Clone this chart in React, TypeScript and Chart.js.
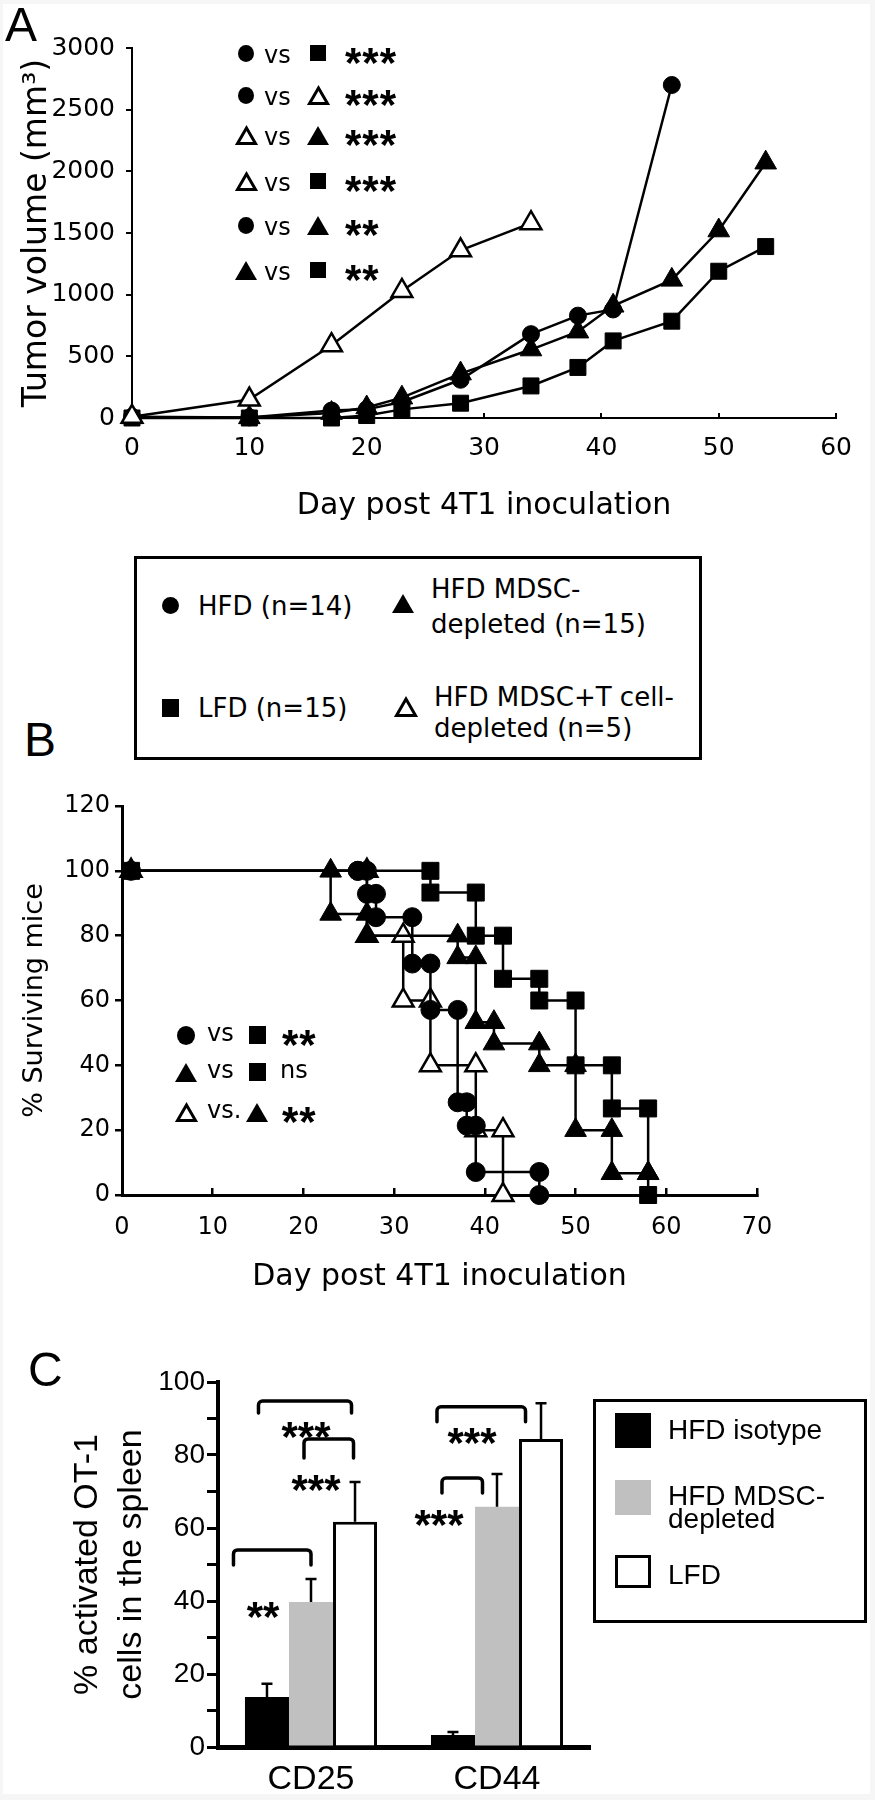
import React, { useEffect, useRef } from 'react';
import { Chart, registerables } from 'chart.js';

Chart.register(...registerables);
Chart.defaults.color = '#000';

const SANS = 'DejaVu Sans';
const ARIAL = 'Liberation Sans';

// ---------- Panel A: tumour volume (mm3) by day ----------
const hfdDays = [0, 10, 17, 20, 23, 28, 34, 38, 41, 46];
const hfdVolume = [10, 5, 60, 70, 130, 310, 680, 830, 880, 2700];
const mdscDays = [0, 10, 17, 20, 23, 28, 34, 38, 41, 46, 50, 54];
const mdscVolume = [5, 5, 40, 85, 165, 360, 555, 700, 910, 1120, 1520, 2070];
const lfdDays = [0, 10, 17, 20, 23, 28, 34, 38, 41, 46, 50, 54];
const lfdVolume = [0, 0, 0, 20, 70, 120, 260, 410, 625, 785, 1190, 1390];
const mdscTDays = [0, 10, 17, 23, 28, 34];
const mdscTVolume = [10, 150, 590, 1030, 1360, 1580];

// ---------- Panel B: % surviving mice (Kaplan-Meier steps) ----------
const hfdSurvDays = [1, 26, 27, 28, 32, 34, 37, 38, 39, 46];
const hfdSurvival = [100, 100, 92.9, 85.7, 71.4, 57.1, 28.6, 21.4, 7.1, 0];
const lfdSurvDays = [1, 34, 39, 42, 46, 50, 54, 58];
const lfdSurvival = [100, 93.3, 80, 66.7, 60, 40, 26.7, 0];
const mdscSurvDays = [1, 23, 27, 37, 39, 41, 46, 50, 54, 58];
const mdscSurvival = [100, 86.7, 80, 73.3, 53.3, 46.7, 40, 20, 6.7, 6.7];
const mdscTSurvDays = [1, 27, 31, 34, 39, 42];
const mdscTSurvival = [100, 80, 60, 40, 20, 0];

// ---------- Panel C: % activated OT-1 cells ----------
const markers = ['CD25', 'CD44'];
const isotypeMean = [13.7, 3.3];
const isotypeErr = [3.6, 0.8];
const mdscMean = [39.7, 65.8];
const mdscErr = [6.3, 9.0];
const lfdMean = [61.7, 84.4];
const lfdErr = [10.9, 9.8];
const barErrors = [isotypeErr, mdscErr, lfdErr];

// ---------- annotations ----------
const sigTumor = [
  ['circle', 'square', '***'],
  ['circle', 'otri', '***'],
  ['otri', 'tri', '***'],
  ['otri', 'square', '***'],
  ['circle', 'tri', '**'],
  ['tri', 'square', '**'],
];
const sigTumorRows = [53, 95, 135, 181, 225, 270];

const sigSurvival = [
  ['circle', 'square', 'vs', '**'],
  ['tri', 'square', 'vs', 'ns'],
  ['otri', 'tri', 'vs.', '**'],
];
const sigSurvivalRows = [1035, 1072, 1112];

const bracketsC = [
  { cat: 0, from: 0, to: 2, level: 94.8, text: '***', textLevel: 87.7 },
  { cat: 0, from: 1, to: 2, level: 84.4, text: '***', textLevel: 73.2 },
  { cat: 0, from: 0, to: 1, level: 54.0, text: '**', textLevel: 38.4 },
  { cat: 1, from: 0, to: 2, level: 93.2, text: '***', textLevel: 86.0 },
  { cat: 1, from: 0, to: 1, level: 73.7, text: '***', textLevel: 63.6 },
];
// [dxFrom, dxTo, legLength, textDx] in px
const bracketLayout = [
  [-8.5, -3.5, 12, -5],
  [-7, -1.5, 19, -17],
  [-33.5, 0, 15, -26],
  [-16, -15.5, 15, -25],
  [-11, -14.5, 15, -36],
];

const pts = (xs: number[], ys: number[]) => xs.map((x, i) => ({ x, y: ys[i] }));
const stepPts = (days: number[], surv: number[]) => {
  const out = [{ x: days[0], y: surv[0] }];
  for (let i = 1; i < days.length; i++) {
    out.push({ x: days[i], y: surv[i - 1] });
    out.push({ x: days[i], y: surv[i] });
  }
  return out;
};

const lineSeries = (label: string, data: any[], style: string, r: number, fill: string) => ({
  label,
  data,
  borderColor: '#000',
  borderWidth: 2.5,
  tension: 0,
  fill: false,
  clip: false,
  pointStyle: style,
  pointRadius: r,
  pointBackgroundColor: fill,
  pointBorderColor: '#000',
  pointBorderWidth: fill === '#fff' ? 2.5 : 1,
});

const noPlugins = { legend: { display: false }, tooltip: { enabled: false } };

const configA = (): any => ({
  type: 'line',
  data: {
    datasets: [
      lineSeries('HFD MDSC+T cell-depleted', pts(mdscTDays, mdscTVolume), 'triangle', 12, '#fff'),
      lineSeries('LFD', pts(lfdDays, lfdVolume), 'rect', 11.3, '#000'),
      lineSeries('HFD MDSC-depleted', pts(mdscDays, mdscVolume), 'triangle', 12.5, '#000'),
      lineSeries('HFD', pts(hfdDays, hfdVolume), 'circle', 8.5, '#000'),
    ],
  },
  options: {
    responsive: false,
    animation: false,
    events: [],
    layout: { padding: { top: 48, right: 30, left: 0, bottom: 0 } },
    plugins: noPlugins,
    scales: {
      x: {
        type: 'linear', min: 0, max: 60,
        ticks: { stepSize: 10, color: '#000', padding: 23, maxRotation: 0, font: { family: SANS, size: 25, lineHeight: 1 }, callback: (v: any) => String(v) },
        grid: { drawOnChartArea: false, drawTicks: true, tickLength: -5, color: '#000', lineWidth: 2 },
        border: { color: '#000', width: 2 },
        title: { display: true, text: 'Day post 4T1 inoculation', color: '#000', font: { family: SANS, size: 30, lineHeight: 1 }, padding: { top: 0, bottom: 19 } },
        afterFit: (s: any) => { s.height = 122; },
      },
      y: {
        type: 'linear', min: 0, max: 3000,
        ticks: { stepSize: 500, color: '#000', padding: 11, font: { family: SANS, size: 25, lineHeight: 1 }, callback: (v: any) => String(v) },
        grid: { drawOnChartArea: false, drawTicks: true, tickLength: 6, color: '#000', lineWidth: 2 },
        border: { color: '#000', width: 2 },
        title: { display: true, text: 'Tumor volume (mm³)', color: '#000', font: { family: SANS, size: 33, lineHeight: 1 }, padding: { top: 20.5, bottom: 0 } },
        afterFit: (s: any) => { s.width = 132; },
      },
    },
  },
});

const configB = (): any => ({
  type: 'line',
  data: {
    datasets: [
      lineSeries('LFD', stepPts(lfdSurvDays, lfdSurvival), 'rect', 12, '#000'),
      lineSeries('HFD', stepPts(hfdSurvDays, hfdSurvival), 'circle', 9.5, '#000'),
      lineSeries('HFD MDSC-depleted', stepPts(mdscSurvDays, mdscSurvival), 'triangle', 12.5, '#000'),
      lineSeries('HFD MDSC+T cell-depleted', stepPts(mdscTSurvDays, mdscTSurvival), 'triangle', 12, '#fff'),
    ],
  },
  options: {
    responsive: false,
    animation: false,
    events: [],
    layout: { padding: { top: 26, right: 118, left: 0, bottom: 0 } },
    plugins: noPlugins,
    scales: {
      x: {
        type: 'linear', min: 0, max: 70,
        ticks: { stepSize: 10, color: '#000', padding: 28, maxRotation: 0, font: { family: SANS, size: 24, lineHeight: 1 }, callback: (v: any) => String(v) },
        grid: { drawOnChartArea: false, drawTicks: true, tickLength: -7, color: '#000', lineWidth: 2.5 },
        border: { color: '#000', width: 3 },
        title: { display: true, text: 'Day post 4T1 inoculation', color: '#000', font: { family: SANS, size: 30, lineHeight: 1 }, padding: { top: 0, bottom: 8 } },
        afterFit: (s: any) => { s.height = 105; },
      },
      y: {
        type: 'linear', min: 0, max: 120,
        ticks: { stepSize: 20, color: '#000', padding: 5, font: { family: SANS, size: 24, lineHeight: 1 }, callback: (v: any) => String(v) },
        grid: { drawOnChartArea: false, drawTicks: true, tickLength: 7, color: '#000', lineWidth: 2.5 },
        border: { color: '#000', width: 3 },
        title: { display: true, text: '% Surviving mice', color: '#000', font: { family: SANS, size: 27, lineHeight: 1 }, padding: { top: 21.5, bottom: 0 } },
        afterFit: (s: any) => { s.width = 122; },
      },
    },
  },
});

const errorBarPlugin = {
  id: 'errorBars',
  afterDatasetsDraw(chart: any) {
    const ctx = chart.ctx;
    const y = chart.scales.y;
    chart.data.datasets.forEach((ds: any, i: number) => {
      const meta = chart.getDatasetMeta(i);
      meta.data.forEach((bar: any, j: number) => {
        const top = y.getPixelForValue(ds.data[j] + barErrors[i][j]);
        ctx.save();
        ctx.strokeStyle = '#000';
        ctx.lineWidth = 2.5;
        ctx.beginPath();
        ctx.moveTo(bar.x, bar.y);
        ctx.lineTo(bar.x, top);
        ctx.moveTo(bar.x - 5.5, top);
        ctx.lineTo(bar.x + 5.5, top);
        ctx.stroke();
        ctx.restore();
      });
    });
  },
};

const bracketPlugin = {
  id: 'brackets',
  afterDraw(chart: any) {
    const ctx = chart.ctx;
    const y = chart.scales.y;
    bracketsC.forEach((b, k) => {
      const [dx1, dx2, leg, tdx] = bracketLayout[k];
      const xa = chart.getDatasetMeta(b.from).data[b.cat].x;
      const xb = chart.getDatasetMeta(b.to).data[b.cat].x;
      const x1 = xa + dx1;
      const x2 = xb + dx2;
      const yt = y.getPixelForValue(b.level);
      ctx.save();
      ctx.strokeStyle = '#000';
      ctx.lineWidth = 3.5;
      ctx.lineCap = 'round';
      ctx.lineJoin = 'round';
      ctx.beginPath();
      ctx.moveTo(x1, yt + leg);
      ctx.arcTo(x1, yt, x2, yt, 4);
      ctx.arcTo(x2, yt, x2, yt + leg, 4);
      ctx.lineTo(x2, yt + leg);
      ctx.stroke();
      const yc = y.getPixelForValue(b.textLevel);
      const xc = (xa + xb) / 2 + tdx;
      ctx.fillStyle = '#000';
      ctx.font = `bold 42px "${ARIAL}"`;
      ctx.textAlign = 'center';
      ctx.textBaseline = 'alphabetic';
      ctx.fillText(b.text, xc, yc + 0.578 * 42);
      ctx.restore();
    });
  },
};

const barSet = (label: string, data: number[], fill: string, border: number) => ({
  label,
  data,
  backgroundColor: fill,
  borderColor: '#000',
  borderWidth: border,
  categoryPercentage: 0.71,
  barPercentage: 1,
});

const configC = (): any => ({
  type: 'bar',
  data: {
    labels: markers,
    datasets: [
      barSet('HFD isotype', isotypeMean, '#000', 0),
      barSet('HFD MDSC-depleted', mdscMean, '#c0c0c0', 0),
      barSet('LFD', lfdMean, '#fff', 3),
    ],
  },
  plugins: [errorBarPlugin, bracketPlugin],
  options: {
    responsive: false,
    animation: false,
    events: [],
    layout: { padding: { top: 52, right: 285, left: 0, bottom: 0 } },
    plugins: noPlugins,
    scales: {
      x: {
        type: 'category',
        z: 1,
        ticks: { color: '#000', padding: 16, maxRotation: 0, font: { family: ARIAL, size: 34, lineHeight: 1 } },
        grid: { drawOnChartArea: false, drawTicks: false },
        border: { color: '#000', width: 5 },
        afterFit: (s: any) => { s.height = 53; },
      },
      y: {
        type: 'linear', min: 0, max: 100,
        z: 1,
        ticks: { stepSize: 10, color: '#000', padding: 2, font: { family: ARIAL, size: 28, lineHeight: 1 }, callback: (v: any) => (v % 20 === 0 ? String(v) : '') },
        grid: { drawOnChartArea: false, drawTicks: true, tickLength: 11, color: '#000', lineWidth: 3 },
        border: { color: '#000', width: 4 },
        title: { display: true, text: ['% activated OT-1', 'cells in the spleen'], color: '#000', font: { family: ARIAL, size: 34, lineHeight: '44px' }, padding: { top: 66, bottom: 0 } },
        afterFit: (s: any) => { s.width = 218; },
      },
    },
  },
});

// ---------- HTML helpers ----------
const Txt = ({ x, y, size, family = SANS, weight, ls, children }: any) => (
  <div
    style={{
      position: 'absolute', left: x, top: y - 0.49 * size, fontFamily: family, fontSize: size,
      lineHeight: `${size}px`, whiteSpace: 'nowrap', color: '#000', fontWeight: weight, letterSpacing: ls,
    }}
  >
    {children}
  </div>
);

const Stars = ({ x, y, text }: any) => (
  <Txt x={x} y={y + 0.22 * 42} size={42} family={ARIAL} weight="bold" ls={1}>{text}</Txt>
);

const Sym = ({ kind, x, y, w, h }: any) => {
  let shape: any = null;
  if (kind === 'circle') shape = <ellipse cx={w / 2} cy={h / 2} rx={w / 2} ry={h / 2} fill="#000" />;
  if (kind === 'square') shape = <rect x={0} y={0} width={w} height={h} fill="#000" />;
  if (kind === 'tri') shape = <polygon points={`${w / 2},0 ${w},${h} 0,${h}`} fill="#000" />;
  if (kind === 'otri')
    shape = (
      <polygon
        points={`${w / 2},2 ${w - 1.5},${h - 1.5} 1.5,${h - 1.5}`}
        fill="#fff" stroke="#000" strokeWidth={3} strokeLinejoin="miter"
      />
    );
  return (
    <svg style={{ position: 'absolute', left: x - w / 2, top: y - h / 2, overflow: 'visible' }} width={w} height={h}>
      {shape}
    </svg>
  );
};

const symSizeA: any = { circle: [16, 17], square: [16, 16], tri: [22, 19], otri: [21, 19] };
const symSizeB: any = { circle: [18, 19], square: [17, 18], tri: [22, 19], otri: [21, 19] };

export default function App() {
  const aRef = useRef<HTMLCanvasElement>(null);
  const bRef = useRef<HTMLCanvasElement>(null);
  const cRef = useRef<HTMLCanvasElement>(null);

  useEffect(() => {
    const charts = [
      new Chart(aRef.current as any, configA()),
      new Chart(bRef.current as any, configB()),
      new Chart(cRef.current as any, configC()),
    ];
    return () => charts.forEach((c) => c.destroy());
  }, []);

  return (
    <div style={{ position: 'absolute', left: 0, top: 0, width: 875, height: 1800, background: '#f6f6f6', overflow: 'hidden' }}>
      <div style={{ position: 'absolute', left: 3, top: 4, width: 867, height: 1790, background: '#fff' }} />

      <canvas ref={aRef} width={875} height={540} style={{ position: 'absolute', left: 0, top: 0 }} />
      <canvas ref={bRef} width={875} height={520} style={{ position: 'absolute', left: 0, top: 780 }} />
      <canvas ref={cRef} width={875} height={470} style={{ position: 'absolute', left: 0, top: 1330 }} />

      {/* panel letters */}
      <Txt x={5} y={25} size={48} family={ARIAL}>A</Txt>
      <Txt x={24} y={740} size={48} family={ARIAL}>B</Txt>
      <Txt x={28} y={1370} size={48} family={ARIAL}>C</Txt>

      {/* Panel A significance */}
      {sigTumor.map((row, i) => {
        const y = sigTumorRows[i];
        const [s1, s2, st] = row;
        return (
          <React.Fragment key={'a' + i}>
            <Sym kind={s1} x={246} y={y} w={symSizeA[s1][0]} h={symSizeA[s1][1]} />
            <Txt x={264} y={y + 1.5} size={24}>vs</Txt>
            <Sym kind={s2} x={318} y={y} w={symSizeA[s2][0]} h={symSizeA[s2][1]} />
            <Stars x={345} y={y} text={st} />
          </React.Fragment>
        );
      })}

      {/* Legend box for A/B */}
      <div style={{ position: 'absolute', left: 134, top: 556, width: 568, height: 204, border: '3px solid #000', boxSizing: 'border-box' }} />
      <Sym kind="circle" x={170} y={605} w={17} h={17} />
      <Txt x={198} y={606} size={26}>HFD (n=14)</Txt>
      <Sym kind="tri" x={403} y={603} w={22} h={19} />
      <Txt x={431} y={589} size={26}>HFD MDSC-</Txt>
      <Txt x={431} y={624} size={26}>depleted (n=15)</Txt>
      <Sym kind="square" x={170} y={708} w={17} h={18} />
      <Txt x={198} y={708} size={26}>LFD (n=15)</Txt>
      <Sym kind="otri" x={406} y={707} w={22} h={20} />
      <Txt x={434} y={697} size={26}>HFD MDSC+T cell-</Txt>
      <Txt x={434} y={728} size={26}>depleted (n=5)</Txt>

      {/* Panel B significance */}
      {sigSurvival.map((row, i) => {
        const y = sigSurvivalRows[i];
        const [s1, s2, vs, st] = row;
        return (
          <React.Fragment key={'b' + i}>
            <Sym kind={s1} x={186} y={y} w={symSizeB[s1][0]} h={symSizeB[s1][1]} />
            <Txt x={207} y={y - 2} size={24}>{vs}</Txt>
            <Sym kind={s2} x={257} y={y} w={symSizeB[s2][0]} h={symSizeB[s2][1]} />
            {st === 'ns' ? <Txt x={280} y={y - 2} size={24}>ns</Txt> : <Stars x={282} y={y} text={st} />}
          </React.Fragment>
        );
      })}

      {/* Panel C legend */}
      <div style={{ position: 'absolute', left: 593, top: 1399, width: 274, height: 224, border: '3px solid #000', boxSizing: 'border-box' }} />
      <div style={{ position: 'absolute', left: 615, top: 1413, width: 36, height: 35, background: '#000' }} />
      <div style={{ position: 'absolute', left: 615, top: 1480, width: 36, height: 35, background: '#c0c0c0' }} />
      <div style={{ position: 'absolute', left: 615, top: 1555, width: 36, height: 33, background: '#fff', border: '3px solid #000', boxSizing: 'border-box' }} />
      <Txt x={668} y={1430} size={28} family={ARIAL}>HFD isotype</Txt>
      <Txt x={668} y={1496} size={28} family={ARIAL}>HFD MDSC-</Txt>
      <Txt x={668} y={1519} size={28} family={ARIAL}>depleted</Txt>
      <Txt x={668} y={1575} size={28} family={ARIAL}>LFD</Txt>
    </div>
  );
}
